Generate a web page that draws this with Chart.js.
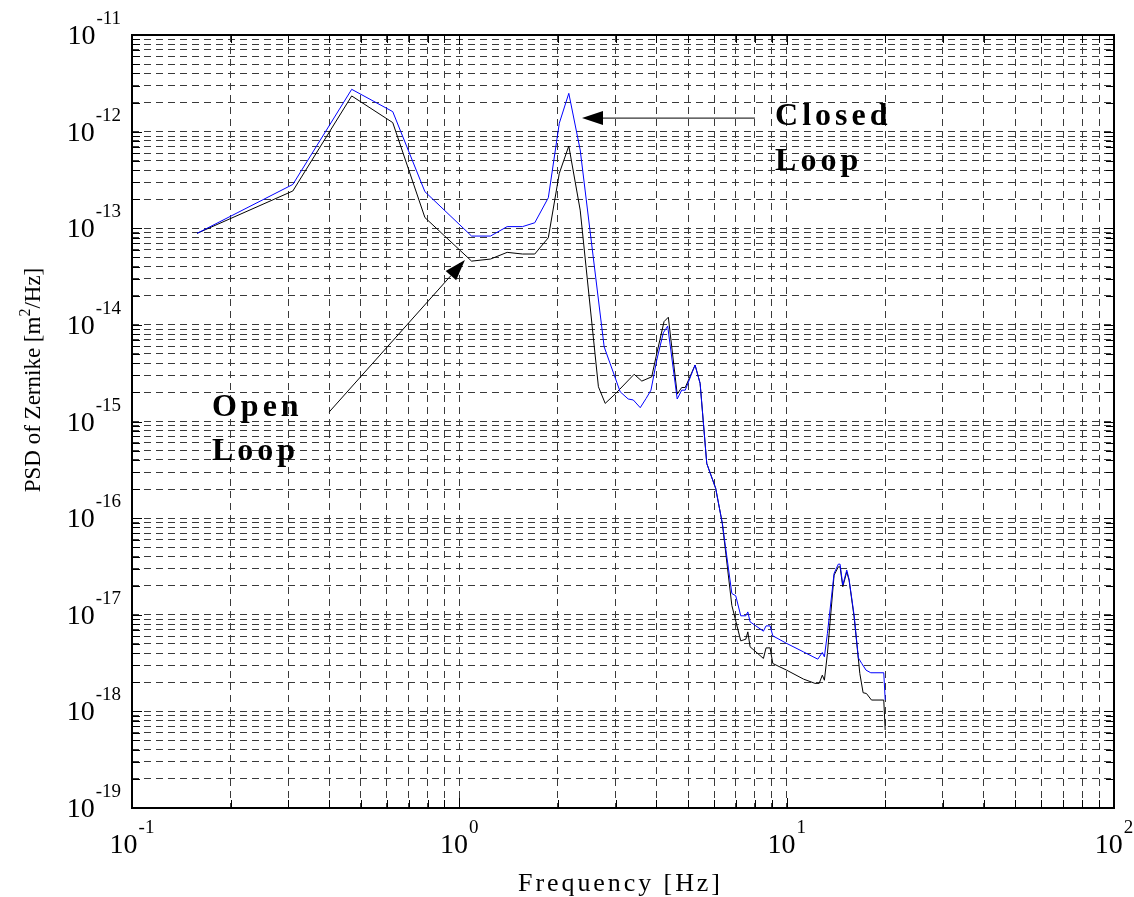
<!DOCTYPE html>
<html>
<head>
<meta charset="utf-8">
<script src="https://cdn.jsdelivr.net/npm/chart.js@4/dist/chart.umd.min.js"></script>
<style>
  html, body { margin: 0; padding: 0; background: #fff; }
  #wrap { width: 1134px; height: 897px; }
</style>
</head>
<body>
<div id="wrap"><canvas id="psdChart"></canvas></div>
<script>
// closed loop (blue)
const freqClosed = [0.158, 0.31, 0.469, 0.626, 0.785, 1.09, 1.245, 1.40, 1.56, 1.70, 1.87, 2.02, 2.16, 2.34,
  2.77, 3.10, 3.28, 3.40, 3.57, 3.72, 3.85, 4.01, 4.20, 4.33, 4.63, 4.78, 4.90, 5.25, 5.44, 5.70, 6.07, 6.36,
  6.80, 6.99, 7.24, 7.50, 7.61, 7.73, 8.49, 8.65, 8.90, 9.07, 10.0, 11.25, 12.45, 12.85, 13.04, 13.32, 13.96,
  14.38, 14.56, 14.84, 15.26, 15.51, 16.07, 16.56, 16.96, 17.48, 18.07, 19.8, 20.0];
const psdClosed = [8.85e-14, 2.84e-13, 2.74e-12, 1.61e-12, 2.39e-13, 8.3e-14, 8.3e-14, 1.04e-13, 1.04e-13, 1.14e-13,
  2.07e-13, 1.22e-12, 2.49e-12, 6.46e-13, 5.93e-15, 2.03e-15, 1.71e-15, 1.67e-15, 1.39e-15, 1.73e-15, 2.11e-15,
  4.33e-15, 8.28e-15, 9.72e-15, 1.71e-15, 2.11e-15, 2.11e-15, 3.84e-15, 2.48e-15, 3.68e-16, 2.03e-16, 8.8e-17,
  1.66e-17, 1.57e-17, 9.75e-18, 9.75e-18, 1.07e-17, 8.45e-18, 6.76e-18, 7.67e-18, 7.67e-18, 6.05e-18, 5.05e-18,
  4.13e-18, 3.47e-18, 4.07e-18, 3.67e-18, 6.41e-18, 2.68e-17, 3.34e-17, 3.34e-17, 2.03e-17, 2.90e-17, 2.34e-17,
  9.91e-18, 3.58e-18, 3.13e-18, 2.67e-18, 2.51e-18, 2.51e-18, 1.31e-18];

// open loop (black)
const freqOpen = [0.158, 0.31, 0.469, 0.626, 0.785, 1.09, 1.245, 1.40, 1.56, 1.70, 1.87, 2.02, 2.16, 2.34,
  2.66, 2.79, 2.99, 3.42, 3.61, 3.87, 3.99, 4.22, 4.35, 4.63, 4.78, 4.90, 5.25, 5.44, 5.70, 6.07, 6.36, 6.80,
  7.24, 7.50, 7.61, 7.73, 8.49, 8.65, 8.90, 9.07, 10.0, 11.25, 12.2, 12.57, 12.85, 13.04, 13.32, 13.96, 14.38,
  14.56, 14.84, 15.26, 15.51, 16.07, 16.73, 17.12, 17.53, 18.16, 19.8, 20.0];
const psdOpen = [8.85e-14, 2.43e-13, 2.34e-12, 1.24e-12, 1.29e-13, 4.57e-14, 4.80e-14, 5.63e-14, 5.41e-14, 5.41e-14,
  7.98e-14, 3.70e-13, 7.10e-13, 1.54e-13, 2.29e-15, 1.54e-15, 1.92e-15, 3.08e-15, 2.62e-15, 2.90e-15, 4.68e-15,
  1.08e-14, 1.20e-14, 1.92e-15, 2.25e-15, 2.25e-15, 3.84e-15, 2.48e-15, 3.68e-16, 2.03e-16, 8.8e-17, 1.25e-17,
  5.37e-18, 5.58e-18, 6.65e-18, 4.66e-18, 3.53e-18, 4.54e-18, 4.54e-18, 3.13e-18, 2.67e-18, 2.16e-18, 1.95e-18,
  1.95e-18, 2.37e-18, 2.10e-18, 3.97e-18, 2.57e-17, 3.13e-17, 3.13e-17, 1.95e-17, 2.78e-17, 2.28e-17, 9.51e-18,
  2.47e-18, 1.56e-18, 1.53e-18, 1.31e-18, 1.31e-18, 6.4e-19];

// axis decades (exponents of 10)
const xDecades = [-1, 0, 1, 2];
const yDecades = [-19, -18, -17, -16, -15, -14, -13, -12, -11];

const xTitle = 'Frequency [Hz]';
const yTitle = ['PSD of Zernike [m', '2', '/Hz]'];

// annotation anchors in data units
const closedNote = { text: ['Closed', 'Loop'], at: [9.22, 1.17e-12], line2: 4.0e-13, tail: [8.0, 1.38e-12], tip: [2.37, 1.38e-12] };
const openNote = { text: ['Open', 'Loop'], at: [0.1755, 1.14e-15], line2: 3.98e-16, tail: [0.40, 1.25e-15], tip: [1.04, 4.7e-14] };

const SERIF = '"Liberation Serif", "Times New Roman", serif';

// log ticks: 1..9 in every decade, plus the last decade value
function logTicks(decades) {
  const ticks = [];
  for (let i = 0; i < decades.length - 1; i++) {
    for (let k = 1; k <= 9; k++) {
      ticks.push({ value: k * Math.pow(10, decades[i]), major: k === 1 });
    }
  }
  ticks.push({ value: Math.pow(10, decades[decades.length - 1]), major: true });
  return ticks;
}

function toPoints(xs, ys) {
  return xs.map((x, i) => ({ x: x, y: ys[i] }));
}

// draw text char by char with extra spacing
function spacedWidth(ctx, text, spacing) {
  let w = 0;
  for (const ch of text) w += ctx.measureText(ch).width + spacing;
  return w - spacing;
}
function drawSpaced(ctx, text, x, y, spacing) {
  for (const ch of text) {
    ctx.fillText(ch, x, y);
    x += ctx.measureText(ch).width + spacing;
  }
  return x;
}

function powerLabel(ctx, exp, x, y, align) {
  ctx.font = '28px ' + SERIF;
  const wBase = ctx.measureText('10').width;
  ctx.font = '19px ' + SERIF;
  const sup = String(exp);
  const wSup = ctx.measureText(sup).width;
  const total = wBase + 1 + wSup;
  const start = align === 'center' ? x - total / 2 : x - total;
  ctx.font = '28px ' + SERIF;
  ctx.fillText('10', start, y);
  ctx.font = '19px ' + SERIF;
  ctx.fillText(sup, start + wBase + 1, y - 20);
}

function arrow(ctx, x1, y1, x2, y2) {
  const ang = Math.atan2(y2 - y1, x2 - x1);
  const len = 21, half = 7;
  ctx.beginPath();
  ctx.moveTo(x1, y1);
  ctx.lineTo(x2 - Math.cos(ang) * len, y2 - Math.sin(ang) * len);
  ctx.stroke();
  ctx.beginPath();
  ctx.moveTo(x2, y2);
  ctx.lineTo(x2 - Math.cos(ang) * len - Math.sin(ang) * half, y2 - Math.sin(ang) * len + Math.cos(ang) * half);
  ctx.lineTo(x2 - Math.cos(ang) * len + Math.sin(ang) * half, y2 - Math.sin(ang) * len - Math.cos(ang) * half);
  ctx.closePath();
  ctx.fill();
}

// MATLAB style box, inward ticks, labels and notes
const matlabAxes = {
  id: 'matlabAxes',
  afterDraw(chart) {
    const { ctx, chartArea: a, scales: { x, y } } = chart;
    ctx.save();
    ctx.strokeStyle = '#000';
    ctx.fillStyle = '#000';
    ctx.lineWidth = 1;
    ctx.setLineDash([]);

    ctx.beginPath();
    x.ticks.forEach(t => {
      const px = Math.round(x.getPixelForValue(t.value)) + 0.5;
      const len = t.major ? 10 : 8;
      ctx.moveTo(px, a.bottom); ctx.lineTo(px, a.bottom - len);
      ctx.moveTo(px, a.top); ctx.lineTo(px, a.top + len);
    });
    y.ticks.forEach(t => {
      const py = Math.round(y.getPixelForValue(t.value)) + 0.5;
      const len = t.major ? 10 : 8;
      ctx.moveTo(a.left, py); ctx.lineTo(a.left + len, py);
      ctx.moveTo(a.right, py); ctx.lineTo(a.right - len, py);
    });
    ctx.stroke();

    ctx.lineWidth = 2;
    ctx.strokeRect(Math.round(a.left), Math.round(a.top), Math.round(a.right - a.left), Math.round(a.bottom - a.top));

    // tick labels
    ctx.textAlign = 'left';
    ctx.textBaseline = 'alphabetic';
    xDecades.forEach(e => {
      powerLabel(ctx, e, x.getPixelForValue(Math.pow(10, e)), a.bottom + 45, 'center');
    });
    yDecades.forEach(e => {
      powerLabel(ctx, e, a.left - 11, y.getPixelForValue(Math.pow(10, e)) + 9, 'right');
    });

    // x title
    ctx.font = '26px ' + SERIF;
    const sp = (202 - ctx.measureText(xTitle).width) / (xTitle.length - 1);
    const w = spacedWidth(ctx, xTitle, sp);
    drawSpaced(ctx, xTitle, (a.left + a.right) / 2 - 4 - w / 2, 891, sp);

    // y title, rotated
    ctx.save();
    ctx.translate(40, 380);
    ctx.rotate(-Math.PI / 2);
    ctx.font = '23px ' + SERIF;
    const n0 = ctx.measureText(yTitle[0]).width + ctx.measureText(yTitle[2]).width;
    ctx.font = '16px ' + SERIF;
    const w1 = ctx.measureText(yTitle[1]).width;
    const nChars = yTitle[0].length + yTitle[2].length;
    const ySp = Math.max(0, (220 - n0 - w1) / nChars);
    ctx.font = '23px ' + SERIF;
    const totalY = spacedWidth(ctx, yTitle[0], ySp) + spacedWidth(ctx, yTitle[2], ySp) + w1 + 2 * ySp;
    let cx = -totalY / 2;
    cx = drawSpaced(ctx, yTitle[0], cx, 0, ySp);
    ctx.font = '16px ' + SERIF;
    ctx.fillText(yTitle[1], cx, -10);
    cx += w1 + ySp;
    ctx.font = '23px ' + SERIF;
    drawSpaced(ctx, yTitle[2], cx, 0, ySp);
    ctx.restore();

    // annotations
    ctx.font = 'bold 32px ' + SERIF;
    [closedNote, openNote].forEach(n => {
      const tx = x.getPixelForValue(n.at[0]);
      drawSpaced(ctx, n.text[0], tx, y.getPixelForValue(n.at[1]), 4);
      drawSpaced(ctx, n.text[1], tx, y.getPixelForValue(n.line2), 4);
      ctx.lineWidth = 1;
      arrow(ctx, x.getPixelForValue(n.tail[0]), y.getPixelForValue(n.tail[1]),
        x.getPixelForValue(n.tip[0]), y.getPixelForValue(n.tip[1]));
    });
    ctx.restore();
  }
};

const gridOpts = { color: '#3a3a3a', lineWidth: 1, drawTicks: false };

new Chart(document.getElementById('psdChart'), {
  type: 'line',
  data: {
    datasets: [{
      label: 'Closed Loop',
      data: toPoints(freqClosed, psdClosed),
      borderColor: '#0000ff',
      borderWidth: 1,
      pointRadius: 0,
      tension: 0,
      fill: false
    }, {
      label: 'Open Loop',
      data: toPoints(freqOpen, psdOpen),
      borderColor: '#000000',
      borderWidth: 1,
      pointRadius: 0,
      tension: 0,
      fill: false
    }]
  },
  options: {
    responsive: true,
    maintainAspectRatio: false,
    animation: false,
    devicePixelRatio: 1,
    layout: { padding: { top: 35, right: 20, left: 0, bottom: 0 } },
    plugins: { legend: { display: false }, tooltip: { enabled: false } },
    scales: {
      x: {
        type: 'logarithmic',
        min: Math.pow(10, xDecades[0]),
        max: Math.pow(10, xDecades[xDecades.length - 1]),
        afterBuildTicks: s => { s.ticks = logTicks(xDecades); },
        afterFit: s => { s.height = 89; },
        ticks: { display: false },
        grid: gridOpts,
        border: { display: false, dash: [7, 5] }
      },
      y: {
        type: 'logarithmic',
        min: Math.pow(10, yDecades[0]),
        max: Math.pow(10, yDecades[yDecades.length - 1]),
        afterBuildTicks: s => { s.ticks = logTicks(yDecades); },
        afterFit: s => { s.width = 132; },
        ticks: { display: false },
        grid: gridOpts,
        border: { display: false, dash: [7, 5] }
      }
    }
  },
  plugins: [matlabAxes]
});
</script>
</body>
</html>
